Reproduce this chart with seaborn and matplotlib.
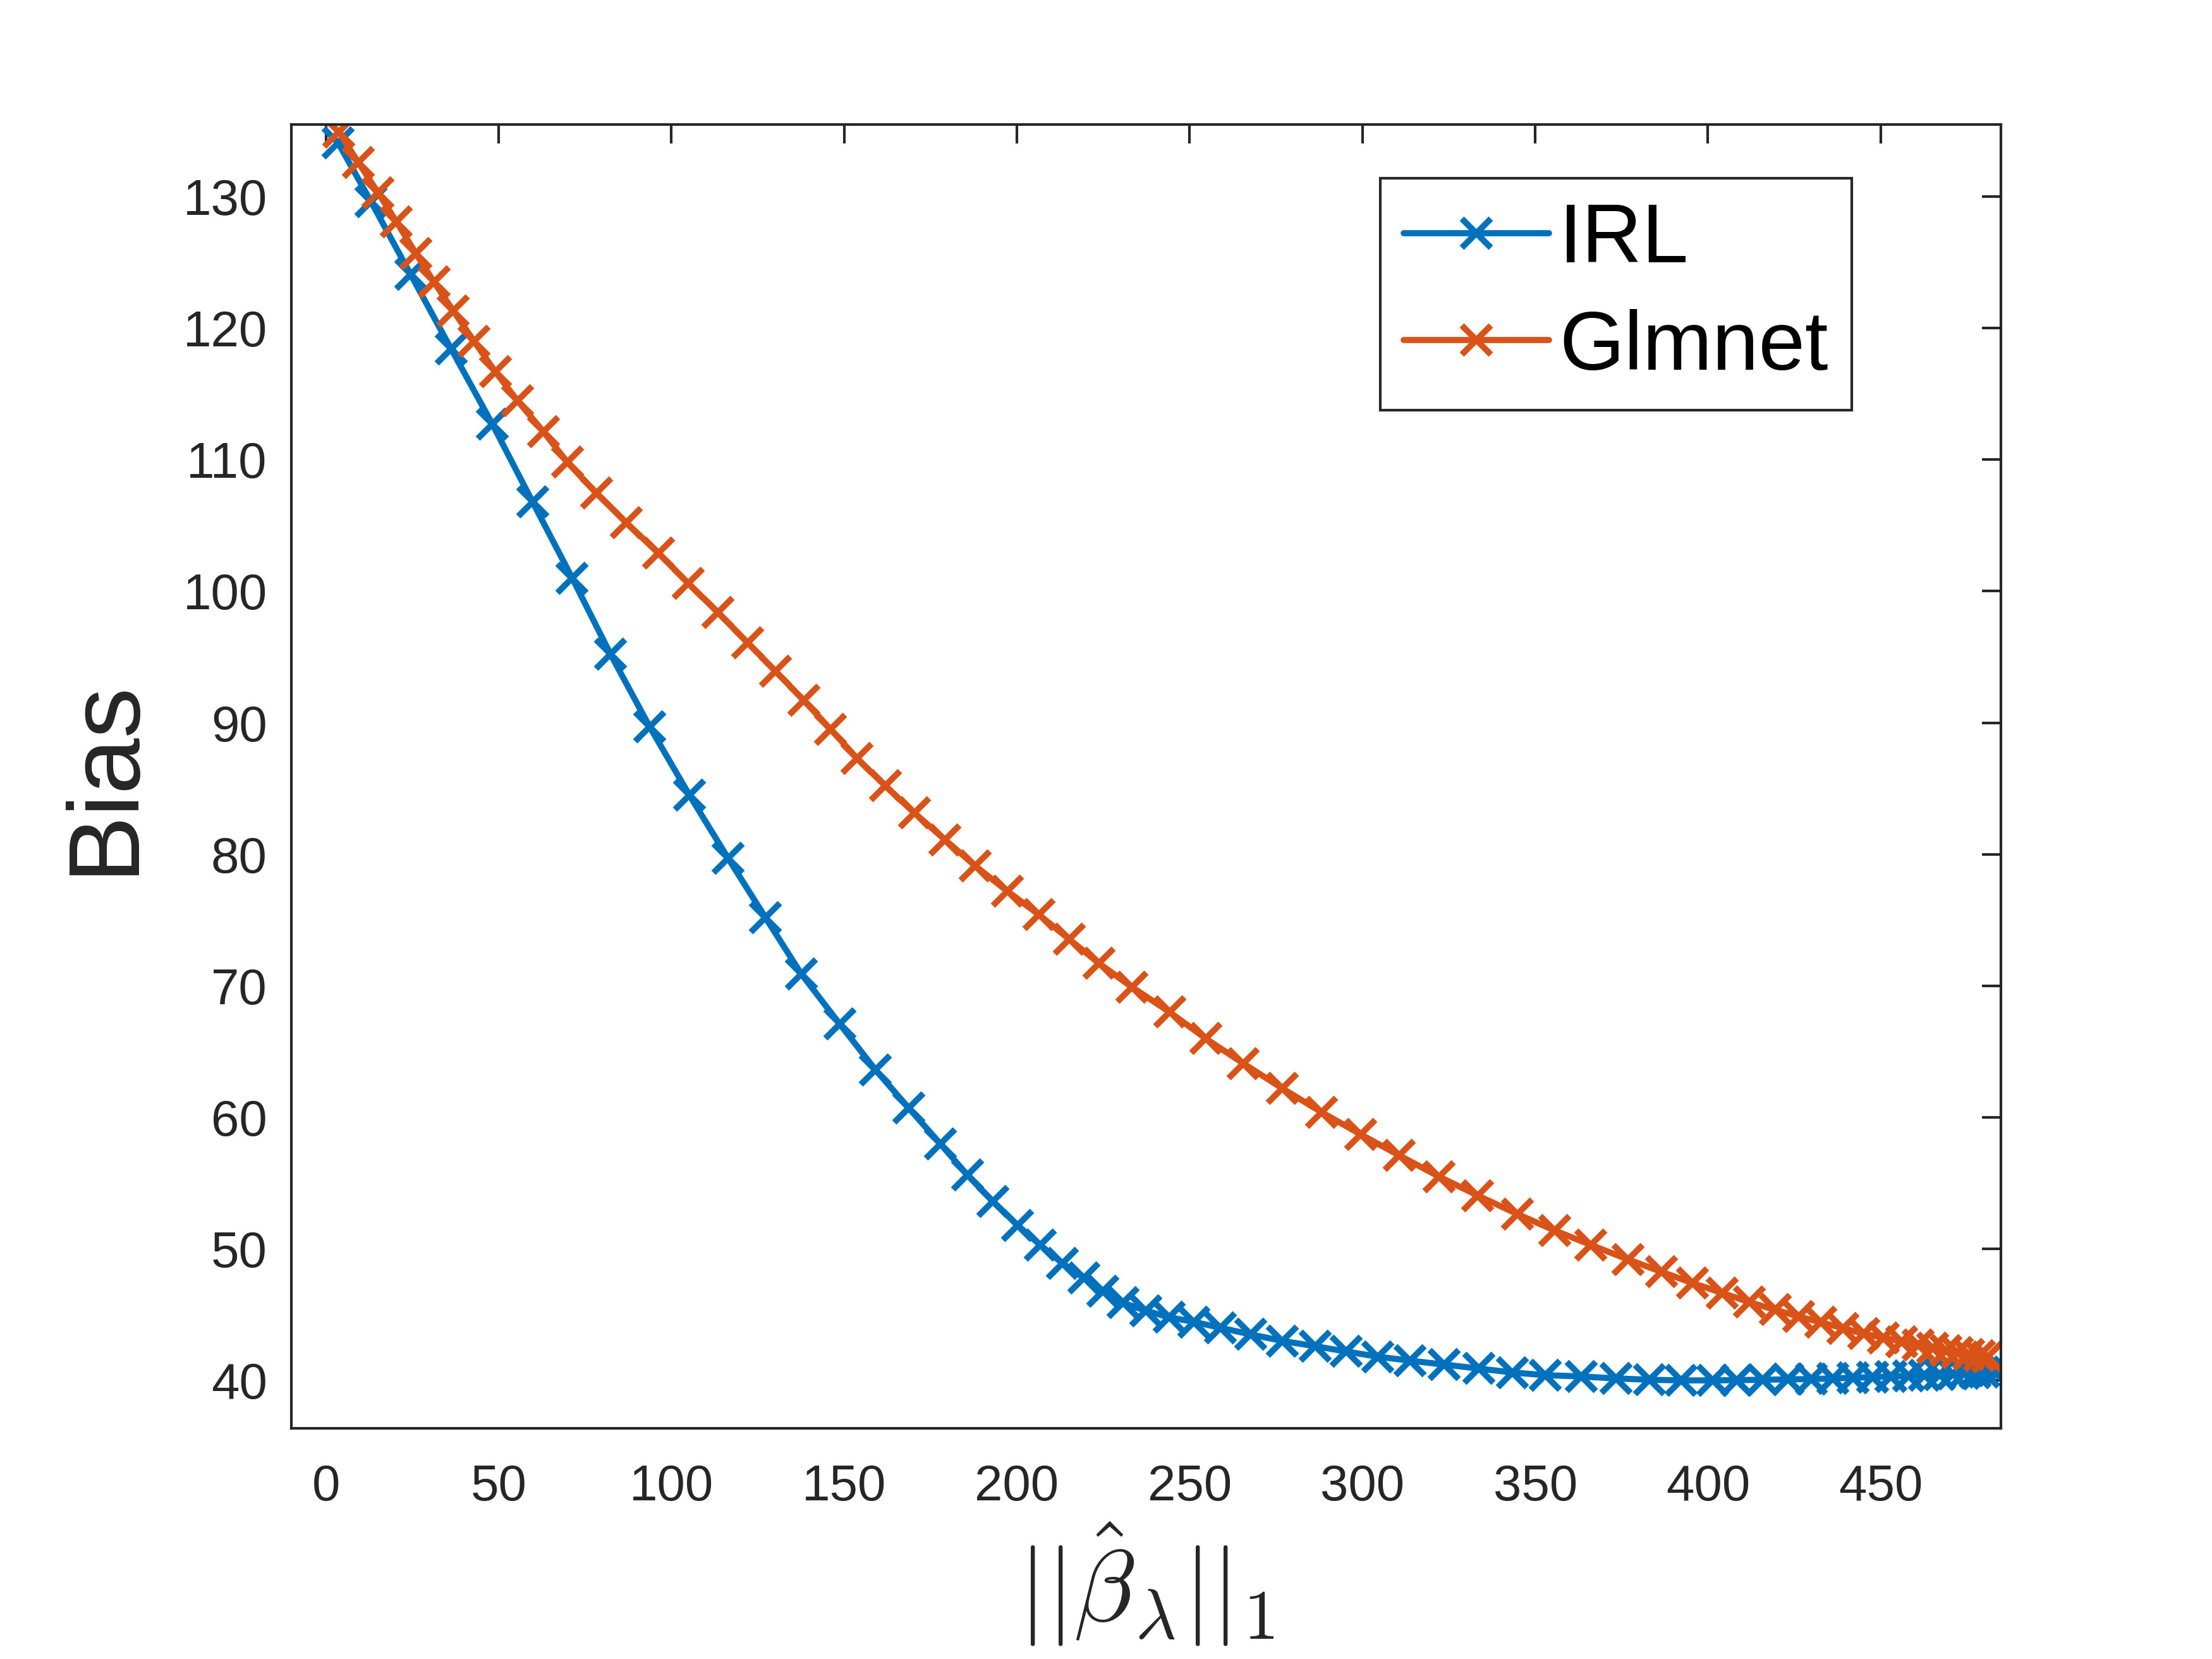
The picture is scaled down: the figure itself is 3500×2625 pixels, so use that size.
import matplotlib
matplotlib.use("Agg")
import matplotlib.pyplot as plt
import seaborn as sns
import pandas as pd

# values
irl_x = [3.5, 13.1, 24.5, 36.3, 48.2, 59.8, 71.3, 82.4, 93.7, 105.2,
         116.4, 127.2, 137.6, 148.7, 159.1, 168.7, 177.8, 185.7, 193.1, 200.2,
         206.7, 213.2, 219.3, 224.9, 230.7, 237.3, 244.0, 251.2, 258.9, 267.6,
         276.8, 286.3, 295.2, 304.5, 313.8, 323.7, 333.7, 343.4, 352.9, 363.3,
         373.4, 383.0, 392.3, 401.3, 408.4, 415.9, 423.2, 429.9, 436.2, 442.0,
         447.6, 453.0, 458.0, 462.7, 467.0, 470.8, 474.1, 477.2, 479.9, 482.5,
         484.8]
irl_bias = [134.1, 129.6, 124.1, 118.4, 112.7, 106.8, 101.0, 95.2, 89.7, 84.5,
            79.7, 75.2, 70.9, 67.1, 63.6, 60.7, 58.0, 55.6, 53.6, 51.8,
            50.3, 48.9, 47.8, 46.8, 45.9, 45.3, 44.8, 44.45, 44.0, 43.5,
            43.0, 42.6, 42.2, 41.8, 41.5, 41.2, 40.9, 40.6, 40.4, 40.3,
            40.15, 40.05, 40.0, 40.0, 40.02, 40.05, 40.08, 40.1, 40.15, 40.2,
            40.25, 40.3, 40.35, 40.4, 40.45, 40.5, 40.55, 40.6, 40.65, 40.72,
            40.85]

glm_x = [3.8, 9.4, 15.1, 20.4, 26.0, 31.3, 36.9, 42.9, 49.0, 55.4,
         62.9, 69.9, 78.3, 87.0, 96.2, 104.9, 113.4, 122.0, 130.2, 138.3,
         146.1, 153.7, 161.9, 170.3, 179.2, 188.0, 197.2, 206.4, 215.1, 223.8,
         233.3, 244.2, 254.6, 265.5, 276.8, 288.1, 299.5, 310.7, 322.1, 333.4,
         344.8, 355.6, 366.1, 376.8, 386.6, 395.5, 404.1, 411.9, 419.4, 426.2,
         432.7, 439.1, 445.0, 450.8, 456.0, 460.9, 465.0, 468.8, 472.2, 475.5,
         478.5, 481.0]
glm_bias = [134.9, 132.6, 130.3, 128.1, 125.7, 123.5, 121.3, 119.0, 116.7, 114.5,
            112.15, 109.8, 107.45, 105.2, 102.9, 100.6, 98.4, 96.1, 93.9, 91.7,
            89.5, 87.3, 85.2, 83.15, 81.1, 79.1, 77.2, 75.4, 73.55, 71.7,
            69.9, 68.0, 66.0, 64.1, 62.2, 60.4, 58.7, 57.1, 55.5, 54.05,
            52.65, 51.4, 50.3, 49.2, 48.25, 47.4, 46.65, 45.95, 45.37, 44.86,
            44.41, 43.97, 43.55, 43.25, 42.95, 42.68, 42.44, 42.25, 42.1, 41.97,
            41.87, 41.78]

x_ticks = [0, 50, 100, 150, 200, 250, 300, 350, 400, 450]
y_ticks = [40, 50, 60, 70, 80, 90, 100, 110, 120, 130]

blue = "#0072BD"
orange = "#D95319"
dark = "#262626"

sns.set_theme(style="white")
plt.rcParams["font.family"] = ["Liberation Sans", "DejaVu Sans"]
plt.rcParams["mathtext.fontset"] = "cm"

fig = plt.figure(figsize=(14, 10.5), dpi=250)
ax = fig.add_axes([0.1317, 0.139, 0.7729, 0.7861])

irl = pd.DataFrame({"x": irl_x, "bias": irl_bias})
glm = pd.DataFrame({"x": glm_x, "bias": glm_bias})

line_kw = dict(marker="x", markersize=13, linewidth=2.8, markeredgewidth=2.8,
               estimator=None, sort=False)
sns.lineplot(data=irl, x="x", y="bias", ax=ax, color=blue, markeredgecolor=blue,
             label="IRL", **line_kw)
sns.lineplot(data=glm, x="x", y="bias", ax=ax, color=orange, markeredgecolor=orange,
             label="Glmnet", **line_kw)

ax.set_xlim(-10, 484.8)
ax.set_ylim(36.35, 135.5)
ax.set_xticks(x_ticks)
ax.set_yticks(y_ticks)

for sp in ax.spines.values():
    sp.set_visible(True)
    sp.set_color(dark)
    sp.set_linewidth(1.2)

ax.tick_params(direction="in", top=True, right=True, length=8.5, width=1.2,
               color=dark, labelcolor=dark, labelsize=23)
ax.tick_params(axis="x", pad=16)
ax.tick_params(axis="y", pad=11)

ax.set_xlabel(r"$||\hat{\beta}_{\lambda}||_1$", fontsize=46, color=dark, labelpad=4)
ax.set_ylabel("Bias", fontsize=46, color=dark, labelpad=14)

leg = ax.legend(loc="upper left", bbox_to_anchor=(0.6368, 0.9584), fontsize=38,
                frameon=True, fancybox=False, framealpha=1, edgecolor=dark,
                borderpad=0.28, handlelength=1.75, handletextpad=0.12,
                labelspacing=0.35, borderaxespad=0)
leg.get_frame().set_linewidth(1.2)
for t in leg.get_texts():
    t.set_color("black")

fig.savefig("out.png", dpi=250)
